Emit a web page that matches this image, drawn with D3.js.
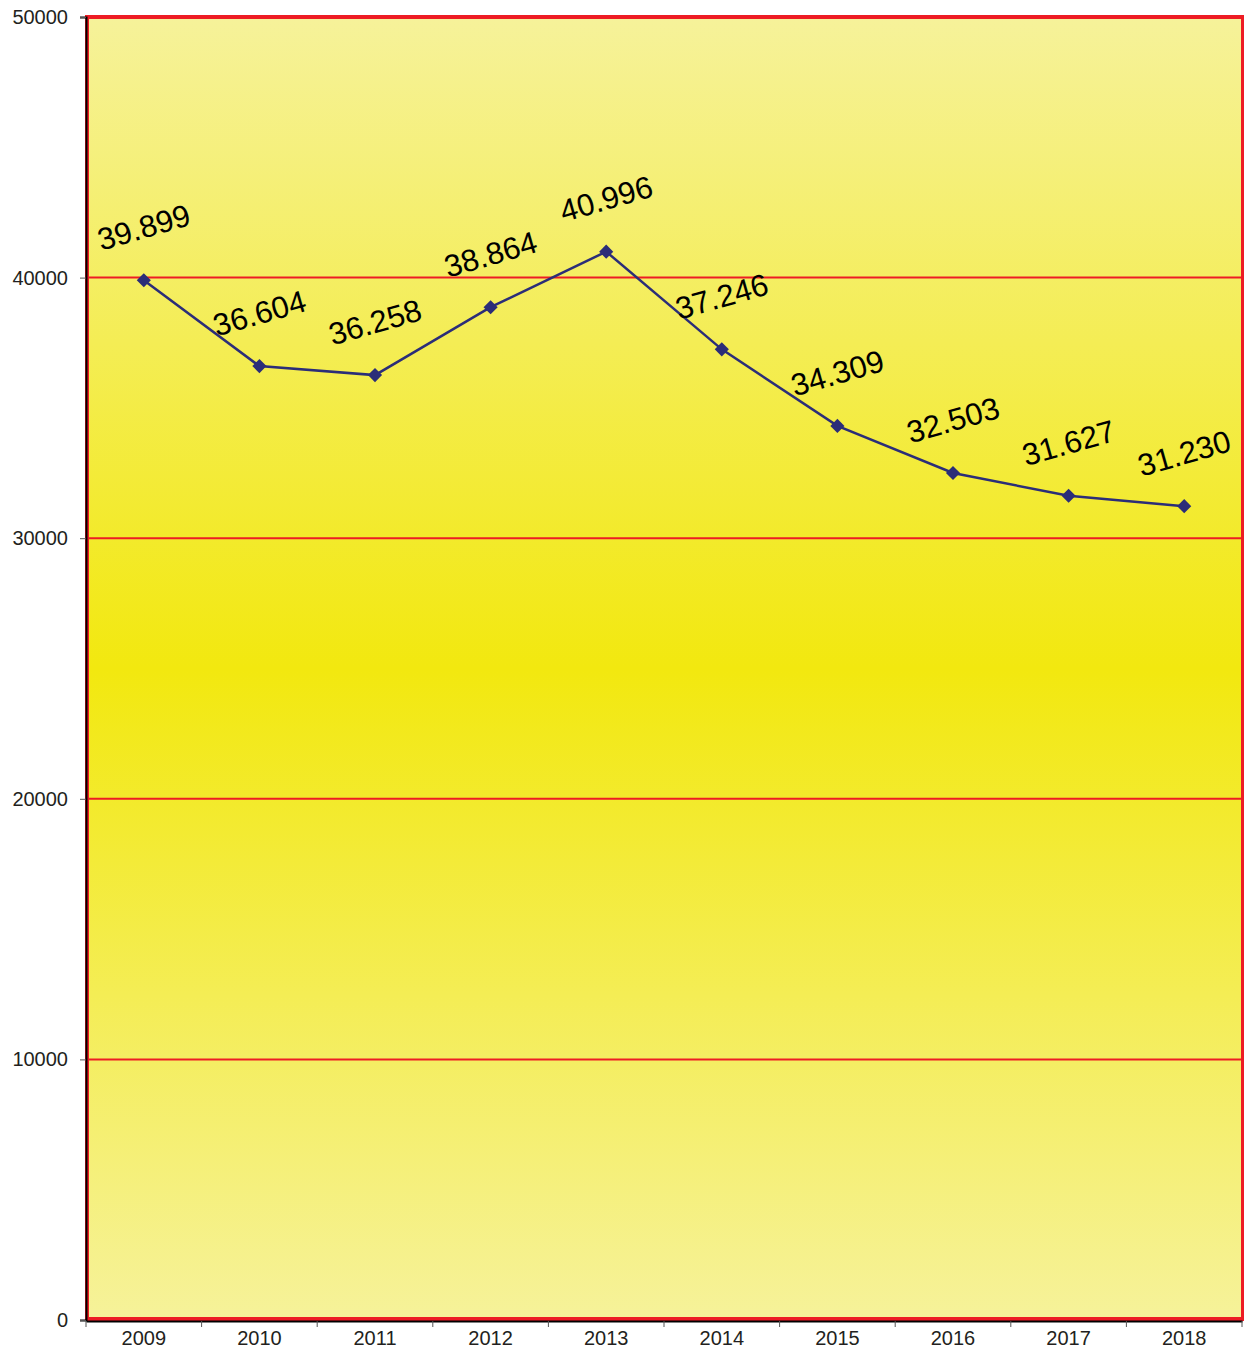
<!DOCTYPE html>
<html>
<head>
<meta charset="utf-8">
<script src="https://cdn.jsdelivr.net/npm/d3@7"></script>
<style>
html,body{margin:0;padding:0;background:#fff;}
svg{display:block;}
</style>
</head>
<body>
<svg id="chart" width="1244" height="1351"></svg>
<script>
const years = ["2009","2010","2011","2012","2013","2014","2015","2016","2017","2018"];
const values = [39899, 36604, 36258, 38864, 40996, 37246, 34309, 32503, 31627, 31230];
const valueLabels = ["39.899","36.604","36.258","38.864","40.996","37.246","34.309","32.503","31.627","31.230"];
const yTicks = [0, 10000, 20000, 30000, 40000, 50000];

const svg = d3.select("#chart");
const L = 86, R = 1242, T = 17, B = 1320;

const x = d3.scaleBand().domain(years).range([L, R]).padding(0);
const y = d3.scaleLinear().domain([0, 50000]).range([B, T]);

const defs = svg.append("defs");
const grad = defs.append("linearGradient").attr("id","bg").attr("x1",0).attr("y1",0).attr("x2",0).attr("y2",1);
grad.append("stop").attr("offset","0%").attr("stop-color","#f6f29a");
grad.append("stop").attr("offset","50%").attr("stop-color","#f2e80f");
grad.append("stop").attr("offset","100%").attr("stop-color","#f6f29a");

svg.append("rect").attr("x",L).attr("y",T).attr("width",R-L).attr("height",B-T).attr("fill","url(#bg)");

// gridlines
svg.append("g").selectAll("line").data(yTicks.filter(d=>d>0 && d<50000)).join("line")
  .attr("x1",L).attr("x2",R).attr("y1",d=>y(d)).attr("y2",d=>y(d))
  .attr("stroke","#ed1c24").attr("stroke-width",2);

// border
svg.append("rect").attr("x",L+1).attr("y",T).attr("width",R-L).attr("height",B-T-1)
  .attr("fill","none").attr("stroke","#ed1c24").attr("stroke-width",4);

const font = "Arial, Liberation Sans, sans-serif";
// axes
const yAxis = d3.axisLeft(y).tickValues(yTicks).tickSize(6).tickPadding(12).tickFormat(d=>String(d));
const gy = svg.append("g").attr("transform",`translate(${L},0)`).call(yAxis);
gy.select(".domain").attr("stroke","#000").attr("stroke-width",2);
gy.selectAll(".tick line").attr("stroke","#555");
gy.selectAll(".tick text").attr("font-family",font).attr("font-size",20).attr("fill","#231f20");

const gx = svg.append("g").attr("transform",`translate(0,${B+1})`)
  .call(d3.axisBottom(x).tickSize(0).tickPadding(8));
gx.select(".domain").attr("stroke","#000").attr("stroke-width",2);
gx.selectAll(".tick text").attr("font-family",font).attr("font-size",20).attr("fill","#231f20").attr("dy","0.8em");
// category boundary ticks
const bounds = years.map(d=>x(d)).concat([R]);
gx.append("g").selectAll("line").data(bounds).join("line")
  .attr("x1",d=>d).attr("x2",d=>d).attr("y1",0).attr("y2",6).attr("stroke","#555").attr("stroke-width",1);

// line
const pts = years.map((d,i)=>({yr:d, v:values[i], lab:valueLabels[i]}));
const line = d3.line().x(d=>x(d.yr)+x.bandwidth()/2).y(d=>y(d.v));
svg.append("path").datum(pts).attr("d",line).attr("fill","none").attr("stroke","#2b2d78").attr("stroke-width",2.5);

svg.append("g").selectAll("path").data(pts).join("path")
  .attr("d",d3.symbol().type(d3.symbolSquare).size(100))
  .attr("transform",d=>`translate(${x(d.yr)+x.bandwidth()/2},${y(d.v)}) rotate(45)`)
  .attr("fill","#2b2d78");

svg.append("g").selectAll("text").data(pts).join("text")
  .attr("transform",d=>`translate(${x(d.yr)+x.bandwidth()/2},${y(d.v)-53}) rotate(-16)`)
  .attr("text-anchor","middle").attr("dy","0.35em")
  .attr("font-family",font).attr("font-size",31).attr("fill","#000")
  .text(d=>d.lab);
</script>
</body>
</html>
